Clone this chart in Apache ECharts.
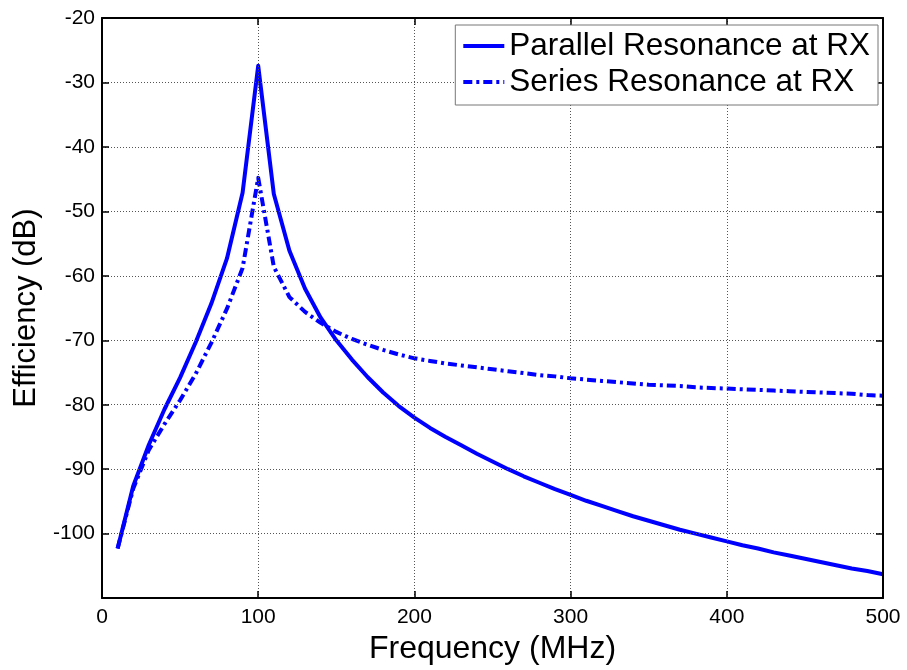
<!DOCTYPE html>
<html>
<head>
<meta charset="utf-8">
<script src="https://cdn.jsdelivr.net/npm/echarts@6/dist/echarts.min.js"></script>
<style>
html,body{margin:0;padding:0;background:#fff;}
#chart{width:907px;height:670px;}
</style>
</head>
<body>
<div id="chart"></div>
<script>
// Frequency samples (MHz)
var freq = [10,20,30,40,50,60,70,80,90,100,110,120,130,140,150,160,170,180,190,200,
            210,220,230,240,250,260,270,280,290,300,310,320,330,340,350,360,370,380,390,400,
            410,420,430,440,450,460,470,480,490,500];
// Efficiency (dB), parallel resonance at RX
var parallelRes = [-102.3,-92.6,-86.2,-80.7,-75.8,-70.3,-64.3,-57.3,-47.1,-27.4,-47.3,-56.1,-62.0,-66.5,-70.0,-73.0,-75.7,-78.1,-80.2,-82.0,
                   -83.6,-85.0,-86.3,-87.6,-88.8,-90.0,-91.1,-92.1,-93.1,-94.0,-94.9,-95.7,-96.5,-97.3,-98.0,-98.7,-99.4,-100.0,-100.6,-101.2,
                   -101.8,-102.3,-102.9,-103.4,-103.9,-104.4,-104.9,-105.4,-105.8,-106.3];
// Efficiency (dB), series resonance at RX
var seriesRes = [-102.3,-93.0,-87.0,-83.0,-79.3,-75.2,-70.4,-65.1,-58.8,-44.8,-58.6,-63.3,-65.6,-67.3,-68.7,-69.8,-70.7,-71.5,-72.2,-72.8,
                 -73.2,-73.6,-73.9,-74.2,-74.5,-74.8,-75.1,-75.4,-75.6,-75.9,-76.1,-76.3,-76.5,-76.7,-76.9,-77.0,-77.1,-77.3,-77.4,-77.5,
                 -77.6,-77.7,-77.8,-77.9,-78.0,-78.1,-78.2,-78.3,-78.5,-78.6];
var seriesNames = ['Parallel Resonance at RX','Series Resonance at RX'];
var xTicks = {min:0, max:500, step:100};
var yTicks = {min:-110, max:-20, step:10};

function pairs(xs, ys){ return xs.map(function(x,i){ return [x, ys[i]]; }); }

var FONT = 'Liberation Sans, Arial, sans-serif';
var chart = echarts.init(document.getElementById('chart'), null, {renderer:'canvas'});

var baseX = {
  type:'value', min:xTicks.min, max:xTicks.max, interval:xTicks.step, z:3,
  axisLine:{show:true, onZero:false, lineStyle:{color:'#000', width:2}},
  axisTick:{show:true, inside:true, length:7, lineStyle:{color:'#000', width:1.5}}
};
var baseY = {
  type:'value', min:yTicks.min, max:yTicks.max, interval:yTicks.step, z:3,
  axisLine:{show:true, onZero:false, lineStyle:{color:'#000', width:2}},
  axisTick:{show:true, inside:true, length:7, lineStyle:{color:'#000', width:1.5}}
};

chart.setOption({
  animation:false,
  backgroundColor:'#fff',
  grid:{left:102, right:24, top:18, bottom:70, containLabel:false},
  legend:{
    data:seriesNames, orient:'vertical', right:29, top:25,
    backgroundColor:'#fff', borderColor:'#777', borderWidth:1,
    padding:[5,8,7,6], itemGap:4, itemWidth:41, itemHeight:32,
    itemStyle:{opacity:0},
    lineStyle:{width:4, cap:'butt'},
    textStyle:{fontFamily:FONT, fontSize:31.5, color:'#000', lineHeight:32}
  },
  xAxis:[
    Object.assign({}, baseX, {
      position:'bottom',
      name:'Frequency (MHz)', nameLocation:'middle', nameGap:27,
      nameTextStyle:{fontFamily:FONT, fontSize:32, color:'#000'},
      axisLabel:{show:true, margin:9, fontFamily:FONT, fontSize:21, color:'#000'},
      splitLine:{show:true, lineStyle:{color:'#555', width:1, type:[1,2]}}
    }),
    Object.assign({}, baseX, {
      position:'top',
      axisLabel:{show:false}, splitLine:{show:false}
    })
  ],
  yAxis:[
    Object.assign({}, baseY, {
      position:'left',
      name:'Efficiency (dB)', nameLocation:'middle', nameGap:53,
      nameTextStyle:{fontFamily:FONT, fontSize:31, color:'#000'},
      axisLabel:{show:true, showMinLabel:false, margin:7, fontFamily:FONT, fontSize:21, color:'#000'},
      splitLine:{show:true, lineStyle:{color:'#555', width:1, type:[1,2]}}
    }),
    Object.assign({}, baseY, {
      position:'right',
      axisLabel:{show:false}, splitLine:{show:false}
    })
  ],
  series:[
    {
      name:seriesNames[0], type:'line', data:pairs(freq, parallelRes),
      showSymbol:false, symbol:'none', smooth:false, z:2,
      lineStyle:{color:'#0000ff', width:4, type:'solid', cap:'butt', join:'round'},
      itemStyle:{color:'#0000ff'}
    },
    {
      name:seriesNames[1], type:'line', data:pairs(freq, seriesRes),
      showSymbol:false, symbol:'none', smooth:false, z:2,
      lineStyle:{color:'#0000ff', width:4, type:[9,4,3,4], cap:'butt', join:'round'},
      itemStyle:{color:'#0000ff'}
    }
  ]
});
</script>
</body>
</html>
